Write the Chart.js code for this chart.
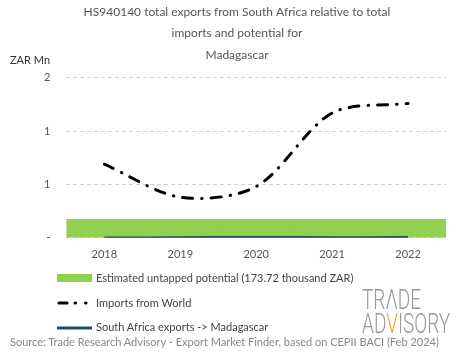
<!DOCTYPE html>
<html>
<head>
<meta charset="utf-8">
<script src="https://cdn.jsdelivr.net/npm/chart.js@4"></script>
<style>
  body { margin: 0; background: #fff; }
  #wrap { position: relative; width: 465px; height: 359px; font-family: Lato, sans-serif; }
  #chart { position: absolute; left: 0; top: 0; }
  .txt { position: absolute; white-space: nowrap; }
  .unit { left: 10px; top: 53px; font-size: 11px; color: #333; }
  .leg { left: 57px; font-size: 11px; color: #444; display: flex; align-items: center; }
  .leg .sw { width: 35px; margin-right: 4px; }
  .src { left: 10px; top: 335px; font-size: 11px; color: #888; }
  .logo { left: 362px; font-size: 28px; color: #9a9a9a; font-family: Roboto, sans-serif; font-weight: 300;
          transform: scaleX(0.68); transform-origin: left top; line-height: 1; }
</style>
</head>
<body>
<div id="wrap">
  <canvas id="chart" width="465" height="359"></canvas>
  <div class="txt unit">ZAR Mn</div>
  <div class="txt leg" style="top:271px"><div class="sw" style="height:8px;background:#92d050"></div>Estimated untapped potential (173.72 thousand ZAR)</div>
  <div class="txt leg" style="top:296px"><svg class="sw" width="35" height="10"><line x1="2" y1="5" x2="35" y2="5" stroke="#000" stroke-width="3" stroke-linecap="round" stroke-dasharray="8 8 0.5 10 0.5 20"/></svg>Imports from World</div>
  <div class="txt leg" style="top:320px"><svg class="sw" width="35" height="10"><line x1="0" y1="6" x2="35" y2="6" stroke="#1d4e5f" stroke-width="3"/></svg>South Africa exports -&gt; Madagascar</div>
  <div class="txt logo" style="top:286px">TR&Lambda;DE</div>
  <div class="txt logo" style="top:310px">AD<span style="color:#f5a623">V</span>ISORY</div>
  <div class="txt src">Source: Trade Research Advisory - Export Market Finder, based on CEPII BACI (Feb 2024)</div>
</div>
<script>
// categories and values (ZAR Mn)
const years = ["2018", "2019", "2020", "2021", "2022"]
const importsWorld = [0.69, 0.38, 0.48, 1.17, 1.26]
const saExports = [0.001, 0.002, 0.006, 0.003, 0.004]
const untapped = [0.174, 0.174, 0.174, 0.174, 0.174]
const yTicks = [0, 0.5, 1, 1.5]

const titleLines = [
  "HS940140 total exports from South Africa relative to total",
  "imports and potential for",
  "Madagascar",
]

let chart = new Chart(document.getElementById("chart"), {
  data: {
    labels: years,
    datasets: [
      {
        type: "line",
        label: "South Africa exports -> Madagascar",
        data: saExports,
        borderColor: "#1d4e5f",
        borderWidth: 2.5,
        pointRadius: 0,
        tension: 0.3,
        order: 0,
      },
      {
        type: "line",
        label: "Imports from World",
        data: importsWorld,
        borderColor: "#000",
        borderWidth: 3,
        borderDash: [10, 9, 0.5, 9],
        borderCapStyle: "round",
        pointRadius: 0,
        tension: 0.3,
        order: 1,
      },
      {
        type: "bar",
        label: "Estimated untapped potential",
        data: untapped,
        backgroundColor: "#92d050",
        barPercentage: 1,
        categoryPercentage: 1,
        order: 2,
      },
    ],
  },
  options: {
    responsive: false,
    animation: false,
    layout: {
      padding: { left: 28, right: 19, top: 0, bottom: 96 },
    },
    scales: {
      x: {
        grid: { display: false },
        border: { display: false },
        ticks: { color: "#555", font: { family: "Lato", size: 11 }, padding: 2 },
      },
      y: {
        min: 0,
        max: 1.5,
        afterBuildTicks: (axis) => {
          axis.ticks = yTicks.map((v) => ({ value: v }))
        },
        grid: {
          color: "#d0d0d0",
          drawTicks: false,
        },
        border: { display: false, dash: [4, 3] },
        ticks: {
          color: "#555",
          font: { family: "Lato", size: 11 },
          padding: 16,
          callback: (v) => (v === 0 ? "-" : Math.round(v).toString()),
        },
      },
    },
    plugins: {
      legend: { display: false },
      tooltip: { enabled: false },
      title: {
        display: true,
        text: titleLines,
        color: "#555",
        font: { family: "Lato", size: 12, weight: "normal", lineHeight: 1.8 },
        padding: { top: 1, bottom: 12 },
      },
    },
  },
})
</script>
</body>
</html>
